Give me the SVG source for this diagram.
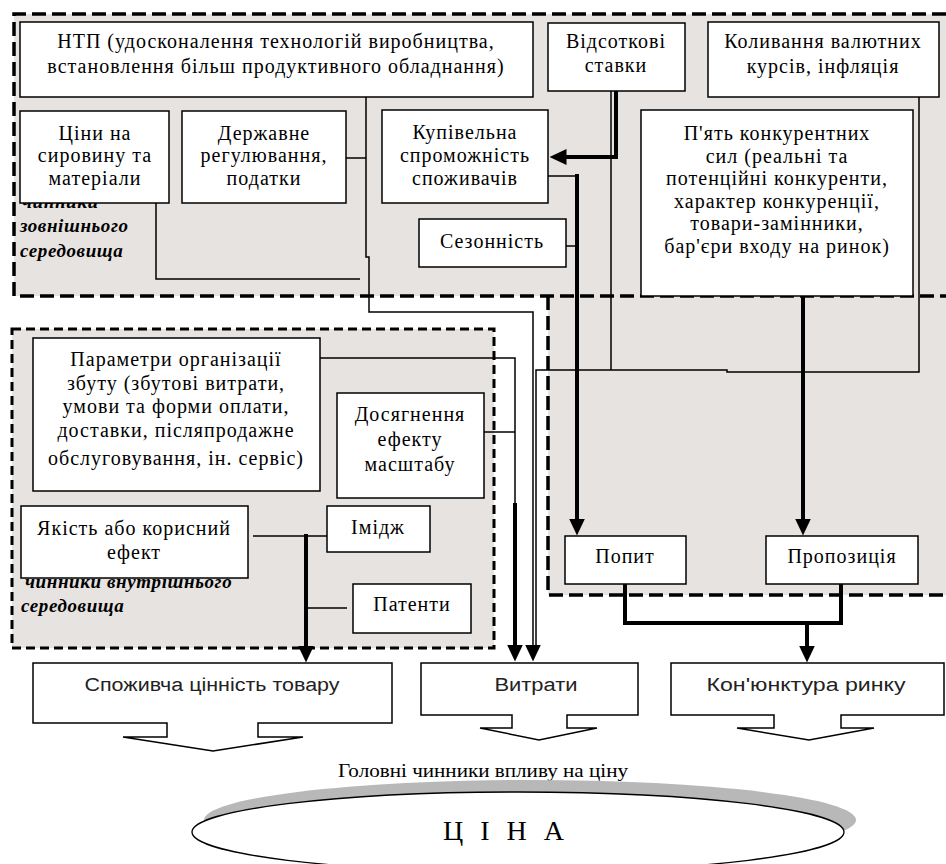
<svg xmlns="http://www.w3.org/2000/svg" width="946" height="864" viewBox="0 0 946 864">
<style>
.bg{fill:#e6e3e1}
.dash1{fill:none;stroke:#000;stroke-width:3.5;stroke-dasharray:14 6}
.dash2{fill:none;stroke:#000;stroke-width:3;stroke-dasharray:9 5}
.box{fill:#fff;stroke:#000;stroke-width:1.5}
.thin{fill:none;stroke:#000;stroke-width:1.5}
.thick{fill:none;stroke:#000;stroke-width:4}
.t{font-family:"Liberation Serif",serif;font-size:20px;letter-spacing:1px;text-anchor:middle;fill:#000}
.lbl{font-family:"Liberation Serif",serif;font-size:19px;font-style:italic;font-weight:bold;letter-spacing:0.6px;fill:#000}
.s{font-family:"Liberation Sans",sans-serif;font-size:18px;text-anchor:middle;fill:#222}
</style>
<defs>
<marker id="arr" markerUnits="userSpaceOnUse" markerWidth="17" markerHeight="16" viewBox="0 0 17 16" refX="0.5" refY="8" orient="auto">
<path d="M0,0 L17,8 L0,16 Z" fill="#000"/>
</marker>
</defs>
<rect x="0" y="0" width="946" height="864" fill="#fff"/>

<g id="regions">
<rect class="bg" x="14" y="14" width="940" height="282"/>
<rect class="bg" x="548" y="296" width="400" height="299"/>
<rect class="bg" x="12" y="329" width="482" height="319"/>
<path class="dash1" d="M946,14 H14 V296 H946"/>
<path class="dash1" d="M548,296 V595 H946"/>
<rect class="dash2" x="12" y="329" width="482" height="319"/>
</g>

<g id="labels">
<text class="lbl" x="22" y="208">чинники</text>
<text class="lbl" x="20" y="232">зовнішнього</text>
<text class="lbl" x="20" y="257">середовища</text>
<text class="lbl" x="25" y="588">чинники внутрішнього</text>
<text class="lbl" x="21" y="612">середовища</text>
</g>

<g id="connectors">
<path class="thin" d="M366,97 V257 H369 V312 H533 V645" marker-end="url(#arr)"/>
<path class="thin" d="M346,158 H366"/>
<path class="thin" d="M156,203 V279 H360"/>
<path class="thin" d="M611,91 V370"/>
<path class="thin" d="M919,97 V372 H727 V370 H536 V645"/>
<path class="thin" d="M548,176 H577"/>
<path class="thin" d="M566,246 H577"/>
<path class="thin" d="M320,358 H515 V503"/>
<path class="thin" d="M484,432 H515"/>
<path class="thin" d="M253,536 H327"/>
<path class="thin" d="M306,608 H347"/>
<path class="thick" d="M616,91 V157 H566" marker-end="url(#arr)"/>
<path class="thick" d="M577,174 V519" marker-end="url(#arr)"/>
<path class="thick" d="M803,296 V519" marker-end="url(#arr)"/>
<path class="thick" d="M515,503 V645" marker-end="url(#arr)"/>
<path class="thick" d="M306,534 V646" marker-end="url(#arr)"/>
<path class="thick" d="M625,584 V623 H841 V584"/>
<path class="thick" d="M807,623 V646" marker-end="url(#arr)"/>
</g>

<g id="ntp">
<rect class="box" x="20" y="22" width="513" height="75"/>
<text class="t" x="276" y="48">НТП (удосконалення технологій виробництва,</text>
<text class="t" x="276" y="73">встановлення більш продуктивного обладнання)</text>
</g>
<g id="stavky">
<rect class="box" x="548" y="23" width="137" height="68"/>
<text class="t" x="616" y="48">Відсоткові</text>
<text class="t" x="616" y="72">ставки</text>
</g>
<g id="kursy">
<rect class="box" x="708" y="22" width="231" height="75"/>
<text class="t" x="823" y="48">Коливання валютних</text>
<text class="t" x="823" y="73">курсів, інфляція</text>
</g>
<g id="tsiny">
<rect class="box" x="20" y="111" width="149" height="92"/>
<text class="t" x="95" y="140">Ціни на</text>
<text class="t" x="95" y="162">сировину та</text>
<text class="t" x="95" y="185">матеріали</text>
</g>
<g id="derzh">
<rect class="box" x="182" y="111" width="164" height="92"/>
<text class="t" x="264" y="140">Державне</text>
<text class="t" x="264" y="162">регулювання,</text>
<text class="t" x="264" y="185">податки</text>
</g>
<g id="kupiv">
<rect class="box" x="382" y="110" width="166" height="93"/>
<text class="t" x="465" y="139">Купівельна</text>
<text class="t" x="465" y="162">спроможність</text>
<text class="t" x="465" y="185">споживачів</text>
</g>
<g id="sezon">
<rect class="box" x="419" y="219" width="147" height="48"/>
<text class="t" x="492" y="248">Сезонність</text>
</g>
<g id="pyat">
<rect class="box" x="641" y="110" width="272" height="186"/>
<text class="t" x="777" y="140">П'ять конкурентних</text>
<text class="t" x="777" y="163">сил (реальні та</text>
<text class="t" x="777" y="185">потенційні конкуренти,</text>
<text class="t" x="777" y="208">характер конкуренції,</text>
<text class="t" x="777" y="230">товари-замінники,</text>
<text class="t" x="777" y="253">бар'єри входу на ринок)</text>
</g>
<g id="param">
<rect class="box" x="33" y="338" width="287" height="153"/>
<text class="t" x="176" y="366">Параметри організації</text>
<text class="t" x="176" y="390">збуту (збутові витрати,</text>
<text class="t" x="176" y="413">умови та форми оплати,</text>
<text class="t" x="176" y="437">доставки, післяпродажне</text>
<text class="t" x="176" y="465">обслуговування, ін. сервіс)</text>
</g>
<g id="masshtab">
<rect class="box" x="337" y="393" width="147" height="105"/>
<text class="t" x="410" y="421">Досягнення</text>
<text class="t" x="410" y="446">ефекту</text>
<text class="t" x="410" y="471">масштабу</text>
</g>
<g id="yakist">
<rect class="box" x="21" y="506" width="227" height="72"/>
<text class="t" x="134" y="535">Якість або корисний</text>
<text class="t" x="134" y="559">ефект</text>
</g>
<g id="imidzh">
<rect class="box" x="327" y="506" width="103" height="46"/>
<text class="t" x="378" y="534">Імідж</text>
</g>
<g id="patenty">
<rect class="box" x="353" y="584" width="118" height="49"/>
<text class="t" x="412" y="611">Патенти</text>
</g>
<g id="popyt">
<rect class="box" x="565" y="536" width="121" height="48"/>
<text class="t" x="625" y="563">Попит</text>
</g>
<g id="propoz">
<rect class="box" x="766" y="536" width="152" height="48"/>
<text class="t" x="842" y="563">Пропозиція</text>
</g>

<g id="spozh">
<path class="box" d="M33,663 H392 V723 H258 V737 H303 L213,751 L123,737 H167 V723 H33 Z"/>
<text class="s" x="212" y="691" textLength="255" lengthAdjust="spacingAndGlyphs">Споживча цінність товару</text>
</g>
<g id="vytraty">
<path class="box" d="M421,663 H638 V715 H567 V728 H597 L539,740 L480,728 H512 V715 H421 Z"/>
<text class="s" x="536" y="691" textLength="83" lengthAdjust="spacingAndGlyphs">Витрати</text>
</g>
<g id="konyunktura">
<path class="box" d="M671,663 H944 V715 H841 V728 H874 L809,740 L737,728 H774 V715 H671 Z"/>
<text class="s" x="806" y="691" textLength="199" lengthAdjust="spacingAndGlyphs">Кон'юнктура ринку</text>
</g>

<g id="golovni">
<text x="483" y="777" font-family="Liberation Serif, serif" font-size="18" text-anchor="middle" textLength="290" lengthAdjust="spacingAndGlyphs">Головні чинники впливу на ціну</text>
</g>

<g id="tsina">
<ellipse cx="530" cy="820" rx="326" ry="40" fill="#b8b8b8"/>
<ellipse cx="518" cy="832" rx="326" ry="40" fill="#fff" stroke="#000" stroke-width="1.3"/>
<text x="506" y="840" font-family="Liberation Serif, serif" font-size="28" letter-spacing="5" text-anchor="middle">Ц І Н А</text>
</g>
</svg>
